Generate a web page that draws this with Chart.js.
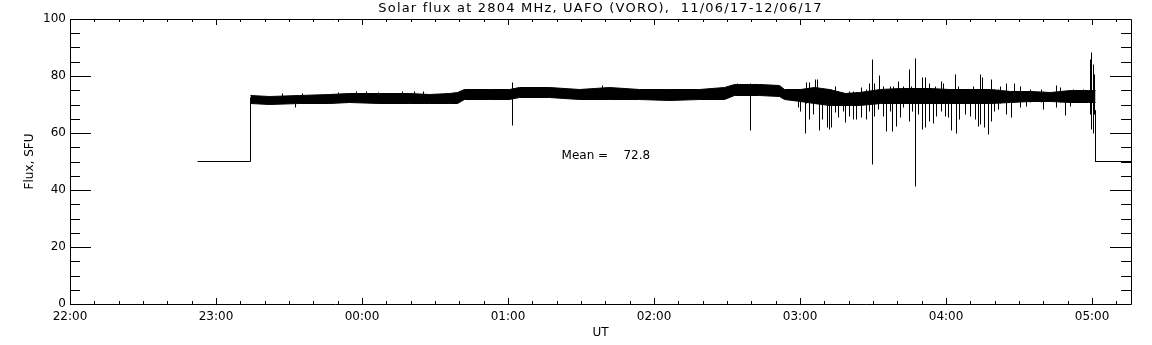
<!DOCTYPE html>
<html>
<head>
<meta charset="utf-8">
<title>Solar flux at 2804 MHz</title>
<script src="https://cdn.jsdelivr.net/npm/chart.js@4/dist/chart.umd.min.js"></script>
<style>
  html, body { margin: 0; padding: 0; background: #fff; }
  #wrap { width: 1152px; height: 345px; }
</style>
</head>
<body>
<div id="wrap"><canvas id="flux"></canvas></div>
<script>
// time = minutes after 22:00 UT, flux in SFU
const startT = [52.4, 74.0, 74.0];
const startFlux = [50, 50, 72.5];
const endT = [421.3, 421.3, 436];
const endFlux = [68, 50, 50];

// upper / lower edge of the dense core of the signal
const bandT = [74.2, 82.0, 94.4, 106.7, 114.9, 127.3, 139.6, 147.8, 156.0, 159.3,
  162.2, 172.5, 180.7, 184.8, 197.2, 209.5, 221.8, 234.2, 246.5, 258.8,
  269.1, 273.2, 283.5, 291.7, 293.8, 300.0, 306.1, 312.3, 318.5, 324.6,
  332.9, 341.1, 353.4, 361.6, 369.9, 378.1, 386.3, 394.5, 402.8, 411.0,
  418.4, 421.3];
const bandHi = [73.1, 72.8, 73.1, 73.4, 74.0, 73.8, 73.8, 73.4, 74.0, 74.2,
  75.4, 75.2, 75.2, 76.0, 75.8, 75.4, 75.8, 75.4, 75.2, 75.2,
  75.8, 76.9, 76.9, 76.7, 75.2, 75.2, 75.8, 75.2, 74.0, 74.3,
  75.2, 75.5, 75.5, 75.2, 75.2, 75.2, 74.6, 74.6, 74.3, 74.9,
  74.9, 74.9];
const bandLo = [70.3, 69.9, 70.2, 70.3, 70.7, 70.5, 70.5, 70.3, 70.3, 70.5,
  71.9, 71.7, 71.9, 72.6, 72.3, 71.9, 71.9, 71.7, 71.4, 71.7,
  71.9, 73.1, 73.1, 72.8, 71.7, 71.0, 70.2, 69.8, 69.5, 69.8,
  70.2, 70.5, 70.2, 70.2, 70.5, 70.5, 70.7, 70.9, 71.0, 70.7,
  70.7, 70.7];

// single spikes: vertical strokes from spikeLo to spikeHi
const spikeT = [87.2, 92.7, 95.7, 110.4, 117.7, 121.9, 126.6, 136.8, 141.7, 145.1,
  181.9, 218.9, 274.5, 279.8, 299.3, 300.2, 302.1, 302.7, 303.8, 305.4,
  306.4, 307.1, 307.9, 309.1, 311.2, 312.3, 313.0, 314.4, 315.7, 317.8,
  318.8, 320.5, 321.9, 323.3, 325.3, 327.4, 328.5, 328.7, 329.7, 330.4,
  330.8, 332.2, 332.6, 334.2, 335.6, 337.0, 338.1, 338.3, 339.7, 340.4,
  341.1, 342.4, 344.8, 345.9, 346.3, 347.4, 348.6, 350.2, 351.6, 353.0,
  353.4, 354.8, 355.5, 356.2, 358.2, 358.9, 359.6, 361.0, 362.3, 363.7,
  364.4, 365.1, 365.7, 367.8, 369.9, 371.2, 371.9, 373.3, 374.3, 375.1,
  376.0, 377.4, 378.8, 380.1, 381.5, 382.2, 384.9, 387.0, 388.1, 390.4,
  393.2, 394.5, 399.3, 400.0, 405.5, 406.9, 408.9, 411.0, 412.3, 416.5,
  419.2, 419.9, 420.6, 421.0];
const spikeHi = [73.8, 72.0, 74.0, 74.2, 74.6, 74.4, 74.2, 74.4, 74.4, 74.6,
  77.8, 76.7, 77.2, 77.2, 75.2, 75.2, 75.2, 77.8, 77.8, 75.2,
  78.9, 78.9, 75.2, 75.2, 75.2, 75.2, 75.2, 76.4, 74.0, 74.0,
  74.0, 74.6, 74.6, 74.3, 75.8, 75.2, 77.5, 75.2, 85.7, 77.5,
  75.2, 75.2, 80.1, 76.4, 75.2, 76.4, 75.2, 76.4, 75.2, 78.1,
  75.2, 76.4, 82.4, 76.4, 75.2, 86.1, 75.2, 79.6, 79.6, 75.2,
  77.5, 75.2, 76.4, 75.2, 78.1, 77.5, 75.2, 75.2, 75.2, 80.5,
  75.2, 76.4, 75.2, 75.2, 75.2, 76.4, 75.2, 75.2, 80.5, 79.3,
  75.2, 75.2, 78.7, 75.2, 75.2, 76.4, 77.5, 74.6, 77.3, 76.4,
  74.6, 75.4, 75.2, 74.6, 76.7, 75.8, 74.6, 74.6, 75.2, 75.2,
  85.7, 88.1, 84.0, 80.7];
const spikeLo = [72.0, 69.0, 71.5, 71.5, 72.0, 72.0, 72.0, 72.0, 72.0, 72.0,
  62.6, 73.0, 74.0, 60.9, 68.8, 67.6, 59.9, 70.5, 64.7, 66.4,
  70.5, 70.5, 60.9, 64.7, 62.1, 61.2, 62.1, 67.2, 65.3, 67.6,
  63.7, 65.8, 64.7, 64.7, 65.3, 64.7, 70.2, 67.6, 49.0, 70.2,
  65.8, 68.2, 70.2, 65.8, 60.6, 67.6, 60.6, 70.5, 62.3, 70.5,
  65.3, 68.8, 63.9, 70.5, 67.6, 41.1, 66.4, 61.2, 61.8, 64.1,
  70.5, 63.5, 70.5, 65.8, 67.6, 70.5, 65.8, 65.3, 60.9, 70.5,
  60.0, 70.5, 64.7, 66.4, 65.8, 70.5, 64.7, 62.3, 62.9, 70.5,
  61.8, 59.4, 64.1, 67.6, 68.2, 70.5, 66.4, 65.3, 70.7, 68.8,
  69.3, 70.7, 70.7, 68.2, 68.8, 70.7, 66.1, 69.3, 70.7, 70.7,
  66.4, 61.2, 60.0, 66.4];

const meanFlux = 72.8;
const titleText = 'Solar flux at 2804 MHz, UAFO (VORO),  11/06/17-12/06/17';

const pts = (ts, vs) => ts.map((t, i) => ({ x: t, y: vs[i] }));

const trace = pts(startT, startFlux).concat([{ x: 75, y: null }], pts(endT, endFlux));

const spikes = [];
spikeT.forEach((t, i) => {
  spikes.push({ x: t, y: spikeLo[i] }, { x: t, y: spikeHi[i] }, { x: t, y: null });
});

function hhmm(v) {
  const m = (22 * 60 + v) % 1440;
  const h = Math.floor(m / 60), mm = m % 60;
  return String(h).padStart(2, '0') + ':' + String(mm).padStart(2, '0');
}

// snap line vertices to pixel centres so 1px strokes stay crisp like the IDL plot
const pixelSnap = {
  id: 'pixelSnap',
  afterDatasetsUpdate(chart) {
    chart.data.datasets.forEach((ds, i) => {
      chart.getDatasetMeta(i).data.forEach(p => {
        if (!p.skip) {
          p.x = Math.floor(p.x) + 0.5;
          p.y = Math.floor(p.y) + 0.5;
        }
      });
    });
  }
};

// IDL style frame: box, inward ticks on all four sides, title and mean label
const idlFrame = {
  id: 'idlFrame',
  afterDraw(chart) {
    const { ctx, chartArea: a, scales: { x, y } } = chart;
    ctx.save();
    ctx.strokeStyle = '#000';
    ctx.lineWidth = 1;
    ctx.beginPath();
    ctx.rect(a.left + 0.5, a.top + 0.5, a.right - a.left, a.bottom - a.top);
    for (let v = 0; v <= x.max; v += 10) {
      const px = Math.round(x.getPixelForValue(v)) + 0.5;
      const len = v % 60 === 0 ? 6 : 3;
      ctx.moveTo(px, a.bottom); ctx.lineTo(px, a.bottom - len);
      ctx.moveTo(px, a.top); ctx.lineTo(px, a.top + len);
    }
    for (let v = 0; v <= 100; v += 5) {
      const py = Math.round(y.getPixelForValue(v)) + 0.5;
      const len = v % 20 === 0 ? 21 : 10;
      ctx.moveTo(a.left, py); ctx.lineTo(a.left + len, py);
      ctx.moveTo(a.right, py); ctx.lineTo(a.right - len, py);
    }
    ctx.stroke();

    ctx.fillStyle = '#000';
    ctx.textBaseline = 'middle';
    ctx.font = '13px "DejaVu Sans"';
    ctx.textAlign = 'center';
    ctx.letterSpacing = '1.2px';
    ctx.fillText(titleText, (a.left + a.right) / 2, 9);
    ctx.letterSpacing = '0px';

    ctx.font = '12px "DejaVu Sans"';
    ctx.textAlign = 'left';
    ctx.fillText('Mean =    ' + meanFlux.toFixed(1), x.getPixelForValue(202), y.getPixelForValue(51.8));
    ctx.restore();
  }
};

Chart.defaults.font.family = '"DejaVu Sans", sans-serif';
Chart.defaults.font.size = 12;
Chart.defaults.color = '#000';

new Chart(document.getElementById('flux'), {
  type: 'line',
  data: {
    datasets: [
      { data: trace, borderColor: '#000', borderWidth: 1, pointRadius: 0, fill: false },
      { data: pts(bandT, bandHi), borderColor: '#000', backgroundColor: '#000', borderWidth: 1, pointRadius: 0, fill: '+1' },
      { data: pts(bandT, bandLo), borderColor: '#000', borderWidth: 1, pointRadius: 0, fill: false },
      { data: spikes, borderColor: '#000', borderWidth: 1, pointRadius: 0, fill: false }
    ]
  },
  options: {
    animation: false,
    responsive: true,
    maintainAspectRatio: false,
    devicePixelRatio: 1,
    layout: { padding: { top: 19, right: 21, left: 0, bottom: 0 } },
    elements: { line: { tension: 0 } },
    plugins: { legend: { display: false }, tooltip: { enabled: false }, title: { display: false } },
    scales: {
      x: {
        type: 'linear',
        min: 0,
        max: 436,
        grid: { display: false, drawTicks: false },
        border: { display: false },
        ticks: { stepSize: 60, includeBounds: false, autoSkip: false, maxRotation: 0, padding: 6, callback: v => hhmm(v) },
        title: { display: true, text: 'UT', padding: { top: 0, bottom: 5 } },
        afterFit(s) { s.height = 41; }
      },
      y: {
        min: 0,
        max: 100,
        grid: { display: false, drawTicks: false },
        border: { display: false },
        ticks: { stepSize: 20, padding: 4 },
        title: { display: true, text: 'Flux, SFU', padding: { top: 23, bottom: 0 } },
        afterFit(s) { s.width = 70; }
      }
    }
  },
  plugins: [pixelSnap, idlFrame]
});
</script>
</body>
</html>
